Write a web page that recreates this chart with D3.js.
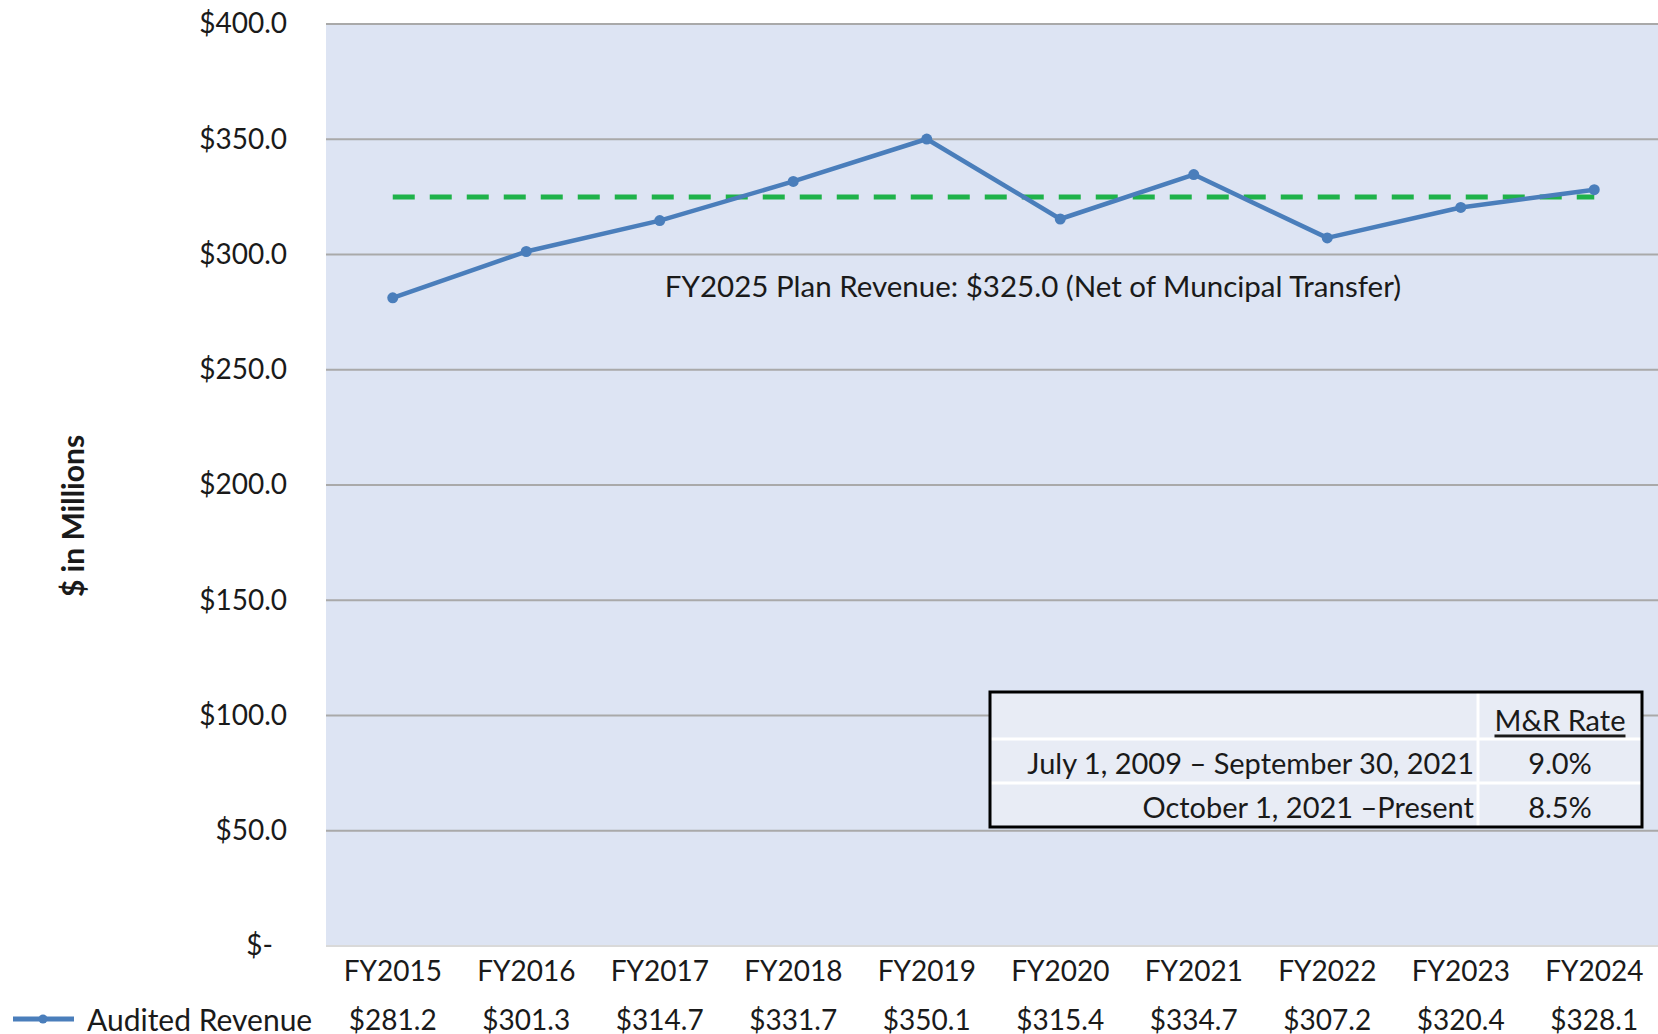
<!DOCTYPE html>
<html>
<head>
<meta charset="utf-8">
<script src="https://cdn.jsdelivr.net/npm/d3@7"></script>
<style>
  body { margin: 0; background: #fff; }
  text { font-family: Lato, "Open Sans", sans-serif; fill: #1a1a1a; }
</style>
</head>
<body>
<svg id="chart" width="1658" height="1034"></svg>
<script>
// chart data
var years = ["FY2015", "FY2016", "FY2017", "FY2018", "FY2019", "FY2020", "FY2021", "FY2022", "FY2023", "FY2024"];
var auditedRevenue = [281.2, 301.3, 314.7, 331.7, 350.1, 315.4, 334.7, 307.2, 320.4, 328.1];
var planRevenue = 325.0;
var planLabel = "FY2025 Plan Revenue: $325.0 (Net of Muncipal Transfer)";
var yTicks = [0, 50, 100, 150, 200, 250, 300, 350, 400];
var rateHeader = ["", "M&R Rate"];
var ratePeriods = ["July 1, 2009 \u2013 September 30, 2021", "October 1, 2021 \u2013Present"];
var rateValues = ["9.0%", "8.5%"];

var svg = d3.select("#chart");

// plot area
var plotLeft = 326, plotRight = 1661, plotTop = 24, plotBottom = 946;

var x = d3.scaleBand().domain(years).range([plotLeft, plotRight]).padding(0);
var y = d3.scaleLinear().domain([0, 400]).range([plotBottom, plotTop]);
function cx(d) { return x(d) + x.bandwidth() / 2; }

svg.append("rect")
    .attr("x", plotLeft).attr("y", plotTop)
    .attr("width", plotRight - plotLeft).attr("height", plotBottom - plotTop)
    .attr("fill", "#dde4f3");

// gridlines
svg.selectAll(".grid")
    .data(yTicks)
    .enter()
    .append("line")
    .attr("x1", plotLeft).attr("x2", plotRight)
    .attr("y1", function(d) { return y(d); })
    .attr("y2", function(d) { return y(d); })
    .attr("stroke", function(d) { return d == 0 ? "#d9d9d9" : "#a9a9a9"; })
    .attr("stroke-width", 2);

// y axis labels
var yAxis = d3.axisLeft(y)
    .tickValues(yTicks)
    .tickSize(0)
    .tickPadding(0)
    .tickFormat(function(d) { return d == 0 ? "$-" : "$" + d.toFixed(1); });
var yAxisG = svg.append("g")
    .attr("transform", "translate(287,0)")
    .call(yAxis);
yAxisG.select(".domain").remove();
yAxisG.selectAll("text")
    .attr("font-size", 28)
    .attr("fill", "#1a1a1a")
    .attr("dx", function(d) { return d == 0 ? -14 : 0; })
    .style("font-family", "Lato, sans-serif");

// y axis title
svg.append("text")
    .attr("transform", "translate(72,516) rotate(-90)")
    .attr("text-anchor", "middle")
    .attr("dominant-baseline", "central")
    .attr("font-size", 30)
    .attr("font-weight", "bold")
    .text("$ in Millions");

// x axis labels
var xAxis = d3.axisBottom(x).tickSize(0).tickPadding(0);
var xAxisG = svg.append("g")
    .attr("transform", "translate(0,968)")
    .call(xAxis);
xAxisG.select(".domain").remove();
xAxisG.selectAll("text")
    .attr("font-size", 28)
    .attr("fill", "#1a1a1a")
    .attr("dy", "0.45em")
    .style("font-family", "Lato, sans-serif");

// data table row under the axis
svg.selectAll(".val")
    .data(auditedRevenue)
    .enter()
    .append("text")
    .attr("x", function(d, i) { return cx(years[i]); })
    .attr("y", 1019)
    .attr("text-anchor", "middle")
    .attr("dominant-baseline", "central")
    .attr("font-size", 28)
    .text(function(d) { return "$" + d.toFixed(1); });

// legend key
svg.append("line")
    .attr("x1", 13).attr("x2", 74).attr("y1", 1019).attr("y2", 1019)
    .attr("stroke", "#4a7ebb").attr("stroke-width", 5);
svg.append("circle")
    .attr("cx", 43).attr("cy", 1019).attr("r", 4.5)
    .attr("fill", "#4a7ebb");
svg.append("text")
    .attr("x", 87).attr("y", 1019)
    .attr("dominant-baseline", "central")
    .attr("font-size", 30)
    .text("Audited Revenue");

// plan revenue dashed line
svg.append("line")
    .attr("x1", cx(years[0])).attr("x2", cx(years[years.length - 1]))
    .attr("y1", y(planRevenue)).attr("y2", y(planRevenue))
    .attr("stroke", "#1fb24a")
    .attr("stroke-width", 5)
    .attr("stroke-dasharray", "22,15");

svg.append("text")
    .attr("x", 1033).attr("y", 285)
    .attr("text-anchor", "middle")
    .attr("dominant-baseline", "central")
    .attr("font-size", 29.5)
    .text(planLabel);

// audited revenue line
var line = d3.line()
    .x(function(d, i) { return cx(years[i]); })
    .y(function(d) { return y(d); });
svg.append("path")
    .datum(auditedRevenue)
    .attr("d", line)
    .attr("fill", "none")
    .attr("stroke", "#4a7ebb")
    .attr("stroke-width", 4.5)
    .attr("stroke-linejoin", "round");
svg.selectAll(".pt")
    .data(auditedRevenue)
    .enter()
    .append("circle")
    .attr("cx", function(d, i) { return cx(years[i]); })
    .attr("cy", function(d) { return y(d); })
    .attr("r", 5.5)
    .attr("fill", "#4a7ebb");

// M&R rate table
var tX = 990, tY = 692, tW = 652, colSplit = 1478;
var rowH = [47, 44, 44];
var rowsY = [tY, tY + rowH[0], tY + rowH[0] + rowH[1]];
var tH = rowH[0] + rowH[1] + rowH[2];
var table = svg.append("g");
table.append("rect")
    .attr("x", tX).attr("y", tY).attr("width", tW).attr("height", tH)
    .attr("fill", "#e8ecf5");
// white separators
table.selectAll(".sep")
    .data([rowsY[1], rowsY[2]])
    .enter()
    .append("line")
    .attr("x1", tX).attr("x2", tX + tW)
    .attr("y1", function(d) { return d; }).attr("y2", function(d) { return d; })
    .attr("stroke", "#fff").attr("stroke-width", 3);
table.append("line")
    .attr("x1", colSplit).attr("x2", colSplit)
    .attr("y1", tY).attr("y2", tY + tH)
    .attr("stroke", "#fff").attr("stroke-width", 3);
table.append("rect")
    .attr("x", tX).attr("y", tY).attr("width", tW).attr("height", tH)
    .attr("fill", "none").attr("stroke", "#000").attr("stroke-width", 3);

table.append("text")
    .attr("x", (colSplit + tX + tW) / 2).attr("y", rowsY[0] + 27)
    .attr("text-anchor", "middle")
    .attr("dominant-baseline", "central")
    .attr("font-size", 29)
    .attr("text-decoration", "underline")
    .text(rateHeader[1]);
table.selectAll(".period")
    .data(ratePeriods)
    .enter()
    .append("text")
    .attr("x", colSplit - 4)
    .attr("y", function(d, i) { return rowsY[i + 1] + 23; })
    .attr("text-anchor", "end")
    .attr("dominant-baseline", "central")
    .attr("font-size", 29)
    .text(function(d) { return d; });
table.selectAll(".rate")
    .data(rateValues)
    .enter()
    .append("text")
    .attr("x", (colSplit + tX + tW) / 2)
    .attr("y", function(d, i) { return rowsY[i + 1] + 23; })
    .attr("text-anchor", "middle")
    .attr("dominant-baseline", "central")
    .attr("font-size", 29)
    .text(function(d) { return d; });
</script>
</body>
</html>
